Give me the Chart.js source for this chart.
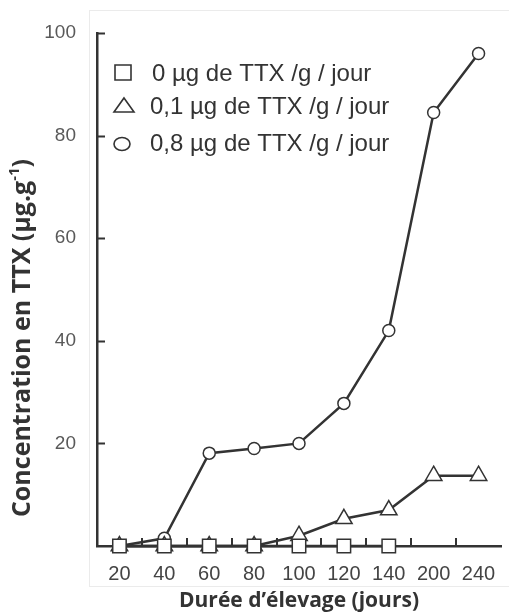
<!DOCTYPE html>
<html>
<head>
<meta charset="utf-8">
<script src="https://cdn.jsdelivr.net/npm/chart.js@4.4.0/dist/chart.umd.min.js"></script>
<style>
html, body { margin: 0; padding: 0; background: #fff; overflow: hidden; }
#wrap { position: relative; width: 512px; height: 614px; }
#frame { position: absolute; left: 89px; top: 10px; width: 440px; height: 577px; border: 1px solid #ebebeb; box-sizing: border-box; }
#chartTTX { position: absolute; left: 0; top: 0; }
</style>
</head>
<body>
<div id="wrap">
  <div id="frame"></div>
  <canvas id="chartTTX" width="512" height="614"></canvas>
</div>
<script>
// durée d'élevage (jours) - categories, evenly spaced
var jours = ['20', '40', '60', '80', '100', '120', '140', '200', '240'];
// concentration en TTX (µg.g-1)
var dose0  = [0, 0, 0, 0, 0, 0, 0, null, null];
var dose01 = [0, 0, 0, 0, 2, 5.3, 7, 13.7, 13.7];
var dose08 = [0, 1.5, 18.1, 19, 20, 27.8, 42, 84.5, 96];
var legendLabels = ['0 µg de TTX /g / jour', '0,1 µg de TTX /g / jour', '0,8 µg de TTX /g / jour'];
var yTitle = 'Concentration en TTX (µg.g';

var ink = '#333333';
var titleFont = '"Open Sans", Lato, sans-serif';

function serie(label, data, style, radius) {
    return {
        label: label,
        data: data,
        borderColor: ink,
        borderWidth: 2.5,
        pointStyle: style,
        pointRadius: radius,
        pointHoverRadius: radius,
        pointBackgroundColor: '#ffffff',
        pointBorderColor: ink,
        pointBorderWidth: 1.5,
        tension: 0,
        clip: false
    };
}

// inner tick marks, legend and y title
var decor = {
    id: 'decor',
    beforeDatasetsDraw: function (chart) {
        var ctx = chart.ctx, xs = chart.scales.x, ys = chart.scales.y;
        var a = chart.chartArea;
        ctx.save();
        ctx.strokeStyle = ink;
        ctx.lineWidth = 2;
        ctx.beginPath();
        [20, 40, 60, 80, 100].forEach(function (v) {
            var y = Math.round(ys.getPixelForValue(v)) + 0.5;
            ctx.moveTo(a.left, y);
            ctx.lineTo(a.left + 8, y);
        });
        for (var i = 1; i < jours.length; i++) {
            var x = Math.round((xs.getPixelForTick(i - 1) + xs.getPixelForTick(i)) / 2);
            ctx.moveTo(x, a.bottom);
            ctx.lineTo(x, a.bottom - 8);
        }
        ctx.stroke();
        ctx.restore();
    },
    afterDraw: function (chart) {
        var ctx = chart.ctx;
        ctx.save();
        // legend
        ctx.strokeStyle = ink;
        ctx.lineWidth = 1.6;
        ctx.fillStyle = '#fff';
        ctx.beginPath();
        ctx.rect(115, 65, 16, 15);
        ctx.fill(); ctx.stroke();
        ctx.beginPath();
        ctx.moveTo(124, 98); ctx.lineTo(134, 112); ctx.lineTo(114, 112); ctx.closePath();
        ctx.fill(); ctx.stroke();
        ctx.beginPath();
        ctx.ellipse(122, 144, 8, 6.5, 0, 0, Math.PI * 2);
        ctx.fill(); ctx.stroke();

        ctx.fillStyle = ink;
        ctx.font = '24px "Liberation Sans", Arial, sans-serif';
        ctx.textBaseline = 'middle';
        ctx.textAlign = 'left';
        ctx.fillText(legendLabels[0], 152, 74);
        ctx.fillText(legendLabels[1], 150, 107);
        ctx.fillText(legendLabels[2], 150, 144);

        // y title with superscript
        var big = 'bold 25px ' + titleFont;
        var small = 'bold 15px ' + titleFont;
        ctx.font = big;
        var w1 = ctx.measureText(yTitle).width;
        var w3 = ctx.measureText(')').width;
        ctx.font = small;
        var w2 = ctx.measureText('-1').width;
        var total = w1 + w2 + w3;
        ctx.translate(23, 338);
        ctx.rotate(-Math.PI / 2);
        ctx.textAlign = 'left';
        ctx.fillStyle = ink;
        ctx.font = big;
        ctx.fillText(yTitle, -total / 2, 0);
        ctx.font = small;
        ctx.fillText('-1', -total / 2 + w1, -8);
        ctx.font = big;
        ctx.fillText(')', -total / 2 + w1 + w2, 0);
        ctx.restore();
    }
};

var ctx = document.getElementById('chartTTX');
var chartTTX = new Chart(ctx, {
    type: 'line',
    data: {
        labels: jours,
        datasets: [
            serie(legendLabels[0], dose0, 'rect', 9.5),
            serie(legendLabels[1], dose01, 'triangle', 9.5),
            serie(legendLabels[2], dose08, 'circle', 6)
        ]
    },
    options: {
        responsive: false,
        animation: false,
        devicePixelRatio: 1,
        layout: { padding: { top: 33, left: 0, right: 0, bottom: 0 } },
        plugins: {
            legend: { display: false },
            tooltip: { enabled: false }
        },
        scales: {
            x: {
                offset: true,
                grid: { display: false, drawTicks: false },
                border: { display: true, color: ink, width: 2.5 },
                ticks: {
                    color: '#444',
                    padding: 16,
                    maxRotation: 0,
                    autoSkip: false,
                    font: { family: '"Liberation Sans", Arial, sans-serif', size: 20 }
                },
                title: {
                    display: true,
                    text: 'Durée d’élevage (jours)',
                    color: ink,
                    font: { family: titleFont, size: 21, weight: 'bold' },
                    padding: { top: 0, bottom: 0 }
                },
                afterFit: function (s) { s.height = 68; }
            },
            y: {
                min: 0,
                max: 100,
                grid: { display: false, drawTicks: false },
                border: { display: true, color: ink, width: 2.5 },
                ticks: {
                    stepSize: 20,
                    color: '#595959',
                    padding: 21,
                    font: { family: '"Liberation Sans", Arial, sans-serif', size: 19 },
                    callback: function (v) { return v === 0 ? '' : v; }
                },
                afterFit: function (s) { s.width = 97; }
            }
        }
    },
    plugins: [decor]
});
</script>
</body>
</html>
